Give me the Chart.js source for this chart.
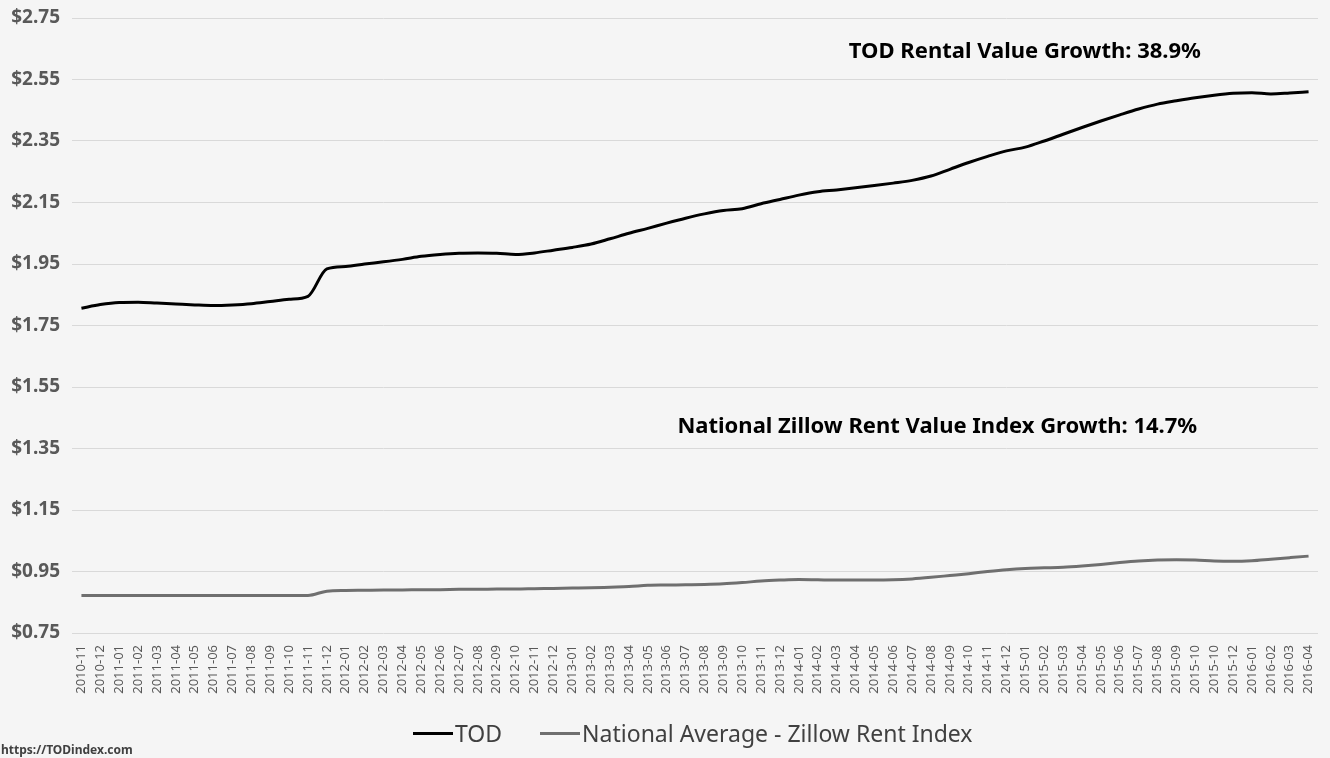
<!DOCTYPE html>
<html>
<head>
<meta charset="utf-8">
<script src="https://cdn.jsdelivr.net/npm/chart.js@4.4.0/dist/chart.umd.min.js"></script>
<style>
    html, body { margin: 0; padding: 0; background: #f5f5f5; }
    #wrap { position: relative; width: 1330px; height: 758px; }
    #footer { position: absolute; left: 1px; top: 741px; font: bold 12px "Noto Sans", sans-serif; color: #404040; }
    #legend { position: absolute; left: 413px; top: 717px; display: flex; align-items: center; font: 23px "Noto Sans", sans-serif; color: #404040; white-space: nowrap; }
    #legend .item { display: flex; align-items: center; margin-right: 38px; }
    #legend .swatch { width: 40px; height: 3px; margin-right: 2px; }
</style>
</head>
<body>
<div id="wrap">
    <canvas id="rentChart" width="1330" height="758"></canvas>
    <div id="legend"></div>
    <div id="footer">https://TODindex.com</div>
</div>
<script>
// Months as printed under the chart (the source repeats 2015-10)
const months = [
    "2010-11", "2010-12",
    "2011-01", "2011-02", "2011-03", "2011-04", "2011-05", "2011-06", "2011-07", "2011-08", "2011-09", "2011-10", "2011-11", "2011-12",
    "2012-01", "2012-02", "2012-03", "2012-04", "2012-05", "2012-06", "2012-07", "2012-08", "2012-09", "2012-10", "2012-11", "2012-12",
    "2013-01", "2013-02", "2013-03", "2013-04", "2013-05", "2013-06", "2013-07", "2013-08", "2013-09", "2013-10", "2013-11", "2013-12",
    "2014-01", "2014-02", "2014-03", "2014-04", "2014-05", "2014-06", "2014-07", "2014-08", "2014-09", "2014-10", "2014-11", "2014-12",
    "2015-01", "2015-02", "2015-03", "2015-04", "2015-05", "2015-06", "2015-07", "2015-08", "2015-09", "2015-10", "2015-10", "2015-12",
    "2016-01", "2016-02", "2016-03", "2016-04"
];

// TOD rent per sq ft
const todValues = [
    1.806, 1.818,
    1.825, 1.826, 1.823, 1.820, 1.817, 1.815, 1.817, 1.821, 1.828, 1.835, 1.845, 1.934,
    1.942, 1.950, 1.957, 1.965, 1.975, 1.981, 1.985, 1.986, 1.985, 1.981, 1.986, 1.995,
    2.004, 2.015, 2.032, 2.050, 2.066, 2.083, 2.099, 2.113, 2.124, 2.130, 2.146, 2.160,
    2.174, 2.185, 2.191, 2.198, 2.205, 2.213, 2.222, 2.236, 2.258, 2.280, 2.300, 2.318,
    2.330, 2.350, 2.372, 2.394, 2.415, 2.435, 2.454, 2.470, 2.481, 2.491, 2.499, 2.505,
    2.507, 2.503, 2.506, 2.510
];

// National average - Zillow rent index
const zillowValues = [
    0.872, 0.872,
    0.872, 0.872, 0.872, 0.872, 0.872, 0.872, 0.872, 0.872, 0.872, 0.872, 0.872, 0.886,
    0.888, 0.889, 0.890, 0.890, 0.891, 0.891, 0.892, 0.892, 0.893, 0.893, 0.894, 0.895,
    0.896, 0.897, 0.899, 0.901, 0.905, 0.906, 0.907, 0.908, 0.910, 0.914, 0.919, 0.922,
    0.924, 0.923, 0.922, 0.922, 0.922, 0.923, 0.926, 0.931, 0.937, 0.943, 0.950, 0.956,
    0.960, 0.962, 0.964, 0.968, 0.973, 0.979, 0.984, 0.987, 0.988, 0.987, 0.984, 0.983,
    0.985, 0.990, 0.995, 1.000
];

const seriesNames = ["TOD", "National Average - Zillow Rent Index"];
const seriesColors = ["#000000", "#6f6f6f"];
const growthNotes = ["TOD Rental Value Growth: 38.9%", "National Zillow Rent Value Index Growth: 14.7%"];

const Y_MIN = 0.75;
const Y_MAX = 2.75;
const Y_STEP = 0.2;

// Draws the two growth captions, anchored to the scales
const growthLabels = {
    id: "growthLabels",
    afterDatasetsDraw(chart, args, opts) {
        const { ctx, scales: { x, y } } = chart;
        ctx.save();
        ctx.font = "bold 22px 'Noto Sans', sans-serif";
        ctx.fillStyle = "#000000";
        ctx.textAlign = "right";
        ctx.textBaseline = "middle";
        opts.notes.forEach(n => {
            ctx.fillText(n.text, x.getPixelForValue(n.at), y.getPixelForValue(n.level));
        });
        ctx.restore();
    }
};

// Build the legend from the chart's datasets
function buildLegend(chart) {
    const legend = document.getElementById("legend");
    legend.innerHTML = chart.data.datasets.map(ds =>
        `<div class="item"><span class="swatch" style="background:${ds.borderColor}"></span>${ds.label}</div>`
    ).join("");
}

function initChart() {
    const ctx = document.getElementById("rentChart").getContext("2d");

    const chart = new Chart(ctx, {
        type: "line",
        data: {
            labels: months,
            datasets: [{
                label: seriesNames[0],
                data: todValues,
                borderColor: seriesColors[0],
                borderWidth: 3,
                pointRadius: 0,
                cubicInterpolationMode: "monotone",
                fill: false,
            }, {
                label: seriesNames[1],
                data: zillowValues,
                borderColor: seriesColors[1],
                borderWidth: 3,
                pointRadius: 0,
                cubicInterpolationMode: "monotone",
                fill: false,
            }]
        },
        options: {
            responsive: false,
            animation: false,
            layout: { padding: { top: 18, right: 12, bottom: 42, left: 0 } },
            plugins: {
                tooltip: { enabled: false },
                legend: { display: false },
                growthLabels: {
                    notes: [
                        { text: growthNotes[0], at: 59.3, level: 2.64 },
                        { text: growthNotes[1], at: 59.1, level: 1.42 }
                    ]
                }
            },
            scales: {
                x: {
                    offset: true,
                    afterFit: s => { s.height = 83; },
                    grid: { display: false },
                    border: { display: false },
                    ticks: {
                        autoSkip: false,
                        minRotation: 90,
                        maxRotation: 90,
                        padding: 4,
                        color: "#595959",
                        font: { family: "'Noto Sans', sans-serif", size: 13 }
                    }
                },
                y: {
                    min: Y_MIN,
                    max: Y_MAX,
                    afterFit: s => { s.width = 72; s.paddingTop = 0; },
                    grid: { color: "#d9d9d9", lineWidth: 1, drawTicks: false },
                    border: { display: false },
                    ticks: {
                        stepSize: Y_STEP,
                        padding: 12,
                        color: "#595959",
                        font: { family: "'Noto Sans', sans-serif", size: 19, weight: "bold" },
                        callback: v => "$" + Number(v).toFixed(2)
                    }
                }
            }
        },
        plugins: [growthLabels]
    });

    buildLegend(chart);
}

document.addEventListener("DOMContentLoaded", initChart);
</script>
</body>
</html>
